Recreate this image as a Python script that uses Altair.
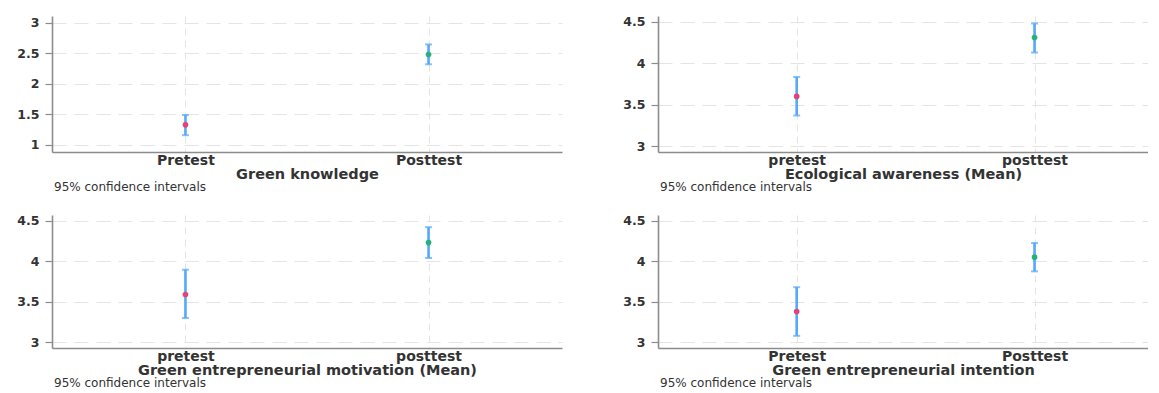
import altair as alt
import pandas as pd

# ---- data ----
panel_titles = [
    "Green knowledge",
    "Ecological awareness (Mean)",
    "Green entrepreneurial motivation (Mean)",
    "Green entrepreneurial intention",
]
group_labels = [
    ["Pretest", "Posttest"],
    ["pretest", "posttest"],
    ["pretest", "posttest"],
    ["Pretest", "Posttest"],
]
means = [[1.33, 2.48], [3.60, 4.31], [3.59, 4.23], [3.38, 4.05]]
lower = [[1.16, 2.32], [3.37, 4.13], [3.30, 4.04], [3.08, 3.875]]
upper = [[1.49, 2.645], [3.835, 4.48], [3.895, 4.42], [3.68, 4.225]]
y_ticks = [
    [1, 1.5, 2, 2.5, 3],
    [3, 3.5, 4, 4.5],
    [3, 3.5, 4, 4.5],
    [3, 3.5, 4, 4.5],
]
y_domains = [[0.885, 3.11], [2.93, 4.57], [2.93, 4.57], [2.93, 4.57]]
note_text = "95% confidence intervals"

FONT = "DejaVu Sans"
TEXT_COLOR = "#333333"
BAR_COLOR = "#55A8FA"
POINT_COLORS = ["#E2447A", "#26B07E"]

# layout per panel (left column / right column)
widths = [510, 490, 510, 490]
heights = [136, 136, 133, 133]
x_pad = [0.549, 0.53, 0.549, 0.53]
x_align = [0.5, 0.55, 0.5, 0.55]


def panel(i):
    df = pd.DataFrame({
        "group": group_labels[i],
        "mean": means[i],
        "lo": lower[i],
        "hi": upper[i],
    })
    x = alt.X(
        "group:N",
        sort=group_labels[i],
        scale=alt.Scale(type="point", padding=x_pad[i], align=x_align[i]),
        axis=alt.Axis(
            title=panel_titles[i],
            ticks=False,
            labelAngle=0,
            labelPadding=1,
            labelFont=FONT,
            labelFontSize=14,
            labelFontWeight="bold",
            labelColor=TEXT_COLOR,
            titleFont=FONT,
            titleFontSize=14.5,
            titleFontWeight="bold",
            titleColor=TEXT_COLOR,
            titlePadding=0,
            domainColor="#8c8c8c",
            domainWidth=1.6,
            grid=True,
            gridDash=[7, 5],
            gridColor="#e4e4e4",
            gridWidth=1,
        ),
    )
    yscale = alt.Scale(domain=y_domains[i], nice=False, zero=False)
    yaxis = alt.Axis(
        title=None,
        values=y_ticks[i],
        labelExpr="format(datum.value, '~g')",
        labelOverlap=False,
        labelSeparation=0,
        tickSize=7,
        tickColor="#8c8c8c",
        tickWidth=1.2,
        labelPadding=6,
        labelFont=FONT,
        labelFontSize=12.5,
        labelFontWeight="bold",
        labelColor=TEXT_COLOR,
        domainColor="#8c8c8c",
        domainWidth=1.6,
        grid=True,
        gridDash=[14, 8],
        gridColor="#e4e4e4",
        gridWidth=1,
        minExtent=39,
        maxExtent=39,
    )
    base = alt.Chart(df)
    rule = base.mark_rule(color=BAR_COLOR, strokeWidth=2.6).encode(
        x=x, y=alt.Y("lo:Q", scale=yscale, axis=yaxis), y2="hi:Q"
    )
    cap_lo = base.mark_tick(color=BAR_COLOR, thickness=2, size=7).encode(
        x=x, y=alt.Y("lo:Q", scale=yscale, axis=yaxis)
    )
    cap_hi = base.mark_tick(color=BAR_COLOR, thickness=2, size=7).encode(
        x=x, y=alt.Y("hi:Q", scale=yscale, axis=yaxis)
    )
    pts = base.mark_point(filled=True, size=32, opacity=1, shape="circle").encode(
        x=x,
        y=alt.Y("mean:Q", scale=yscale, axis=yaxis),
        color=alt.Color(
            "group:N",
            sort=group_labels[i],
            scale=alt.Scale(domain=group_labels[i], range=POINT_COLORS),
            legend=None,
        ),
    )
    return alt.layer(rule, cap_lo, cap_hi, pts).properties(
        width=widths[i],
        height=heights[i],
        title=alt.TitleParams(
            note_text,
            orient="bottom",
            anchor="start",
            frame="group",
            font=FONT,
            fontSize=12,
            fontWeight="normal",
            color=TEXT_COLOR,
            offset=1,
            dx=2,
        ),
    )


top = alt.hconcat(panel(0), panel(1), spacing=57)
bottom = alt.hconcat(panel(2), panel(3), spacing=57)
chart = (
    alt.vconcat(top, bottom, spacing=21)
    .properties(padding={"left": 5, "top": 7, "right": 0, "bottom": 0}, background="white")
    .configure_view(stroke=None)
    .configure_concat(spacing=57)
    .configure_axisY(labelOverlap=False)
)

chart.save("out.html", embed_options={"renderer": "svg", "actions": False})
